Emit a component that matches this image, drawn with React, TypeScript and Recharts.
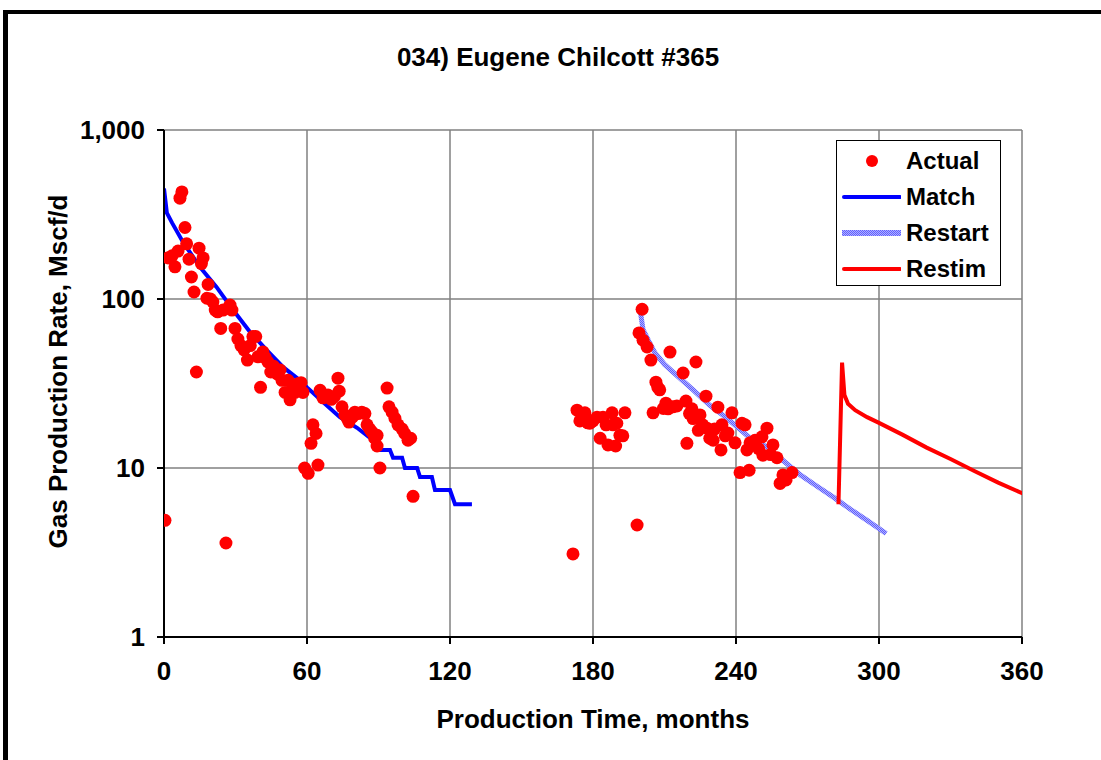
import { ComposedChart, Line, Scatter, XAxis, YAxis, CartesianGrid } from "recharts";

// actual monthly rates (month, Mscf/d)
const actualT = [
  0.4, 1.7, 3.4, 4.6, 5.9, 6.7, 7.5, 8.8, 9.5, 10.5, 11.5, 12.6, 13.6, 14.7, 15.7, 16.4, 18, 18.5, 19.5, 20.5,
  21.5, 22.5, 23.8, 24.8, 26, 27.7, 28.5, 29.8, 31, 32.3, 33.6, 35, 36.2, 37.3, 38.5, 39.4, 40.5, 41.5, 42.5, 43.6,
  44.8, 46, 47.5, 48.7, 49.5, 50.8, 52, 52.9, 54, 55, 56.2, 57.5, 58.3, 59, 60.5, 61.7, 62.5, 63.8, 64.6, 65.5,
  66.7, 67.8, 68.8, 70.2, 71.5, 73, 73.5, 74.7, 75.9, 77, 77.6, 79, 80.1, 81.5, 83, 84.3, 85.2, 86.3, 87.3, 88.4,
  89.4, 89.4, 90.6, 93.6, 94.4, 95.7, 96.9, 98.2, 99.9, 101, 102.4, 103.5, 104.5,
  171.6, 173.3, 174.5, 175.5, 176.6, 177.8, 178.7, 180, 181.7, 183, 184.2, 185.5, 186.3, 188, 188.4, 189.5, 190,
  191.3, 192.5, 193.4, 198.5, 199.3, 200.6, 201, 202.7, 204.3, 205.2, 206.4, 207.2, 208, 209.5, 210.6, 211.5, 212.3,
  213.5, 215.2, 217.8, 219, 219.4, 220.5, 221.5, 222, 223.2, 224.2, 224.9, 226, 227.4, 227.8, 229, 230.4, 231, 232.4,
  233.7, 234.1, 235.5, 236.6, 238.3, 239.6, 241.7, 242.5, 243.8, 244.6, 245.5, 245.9, 248, 249.5, 250.9, 251.3, 253,
  254.5, 255.5, 257.2, 258.5, 259.7, 261, 263.5,
];
const actualV = [
  4.9, 175, 180, 155, 192, 395, 430, 265, 212, 172, 135, 110, 37, 200, 162, 175, 101, 122, 100, 96,
  86, 84, 67, 86, 3.6, 92, 86, 67, 58, 53, 50, 43.5, 53, 60, 60, 45.5, 30, 48.6, 45, 42.4,
  37, 40, 36, 38, 33, 28, 33, 25.3, 30.6, 28, 31.5, 32, 28, 10, 9.3, 14, 18, 16, 10.4, 28.8,
  26, 26.5, 27, 25.5, 26.5, 34, 28.5, 23, 20.6, 19.5, 18.7, 20, 21.4, 21, 21.4, 21, 18, 17, 16.3, 15,
  15.6, 13.5, 10, 29.7, 23, 21.4, 19.7, 18, 17, 16, 14.6, 15, 6.8,
  3.1, 22, 19, 21, 21.2, 18.5, 18.4, 19, 20, 15, 20, 18, 13.7, 21.2, 18, 13.5, 18.4,
  15.6, 15.5, 21.2, 4.6, 63, 87, 57, 52, 43.5, 21.2, 32.2, 30, 29, 22.5, 24.2, 22.4, 48.5,
  23, 23.3, 36.5, 24.9, 14, 21, 22.4, 19.6, 42.4, 16.7, 20.6, 18, 26.6, 17.2, 15, 14.6, 17, 22.9,
  12.8, 18, 15.5, 16.1, 21.2, 14.1, 9.4, 18.4, 18, 12.8, 9.7, 14.1, 14.6, 13, 15.3, 11.9, 17.2,
  12, 13.7, 11.5, 8.1, 9.1, 8.5, 9.4,
];

// history match curve
const matchT = [0, 1.2, 3.4, 8, 15, 22, 29, 36, 43, 50, 57, 60, 66.7, 73.8, 81, 87.7, 90.6, 94.8, 96.1, 99.9, 101.1, 106.2, 107.4, 112.4, 113.7, 120, 122.1, 129.2];
const matchV = [450, 323, 282, 217, 155, 118, 86, 64, 50, 39.5, 33, 30, 24.6, 20, 17.3, 14.6, 12.8, 12.8, 11.5, 11.5, 10, 10, 8.85, 8.85, 7.4, 7.4, 6.1, 6.1];

// restart forecast
const restartT = [200, 201, 203.5, 206, 210, 215, 222, 229, 236, 246, 253, 260, 267, 274, 281, 288, 295, 303];
const restartV = [82, 66, 56, 48, 41, 35.5, 29, 23.5, 19.8, 15, 13.3, 11, 9.1, 7.8, 6.7, 5.7, 4.9, 4.1];

// restimulation forecast
const restimT = [283, 284.5, 285.5, 287, 290, 295, 300, 310, 320, 330, 340, 350, 361];
const restimV = [6.1, 42, 27, 24, 22, 20, 18.5, 15.7, 13.2, 11.3, 9.6, 8.2, 7.0];

const xTicks = [0, 60, 120, 180, 240, 300, 360];
const yTicks = [1, 10, 100, 1000];

const zip = (t: number[], v: number[]) => t.map((x, i) => ({ t: x, v: v[i] }));
const actual = zip(actualT, actualV);
const match = zip(matchT, matchV);
const restart = zip(restartT, restartV);
const restim = zip(restimT, restimV);

const FONT = "'Liberation Sans', Arial, sans-serif";

function Dot(props: any) {
  const { cx, cy } = props;
  if (cx == null || cy == null) return null;
  return <circle cx={cx} cy={cy} r={6.5} fill="#ff0000" />;
}

function Hatch({ id }: { id: string }) {
  return (
    <pattern id={id} width="2" height="2" patternUnits="userSpaceOnUse">
      <rect width="2" height="2" fill="#b0b0ff" />
      <rect width="1" height="1" fill="#6060ff" />
      <rect x="1" y="1" width="1" height="1" fill="#6060ff" />
    </pattern>
  );
}

function LegendBox() {
  const row = { display: "flex", alignItems: "center", height: 36 } as const;
  const txt = { fontFamily: FONT, fontWeight: 700, fontSize: 24, color: "#000", marginLeft: 5 } as const;
  return (
    <div
      style={{
        position: "absolute", left: 836, top: 140, border: "1px solid #000", background: "#fff",
        width: 165, height: 146, boxSizing: "border-box", paddingTop: 2,
      }}
    >
      <div style={row}>
        <svg width={64} height={20}><circle cx={35} cy={10} r={6} fill="#ff0000" /></svg>
        <span style={txt}>Actual</span>
      </div>
      <div style={row}>
        <svg width={64} height={20}><line x1={7} x2={63} y1={10} y2={10} stroke="#0000ff" strokeWidth={4} strokeLinecap="round" /></svg>
        <span style={txt}>Match</span>
      </div>
      <div style={row}>
        <svg width={64} height={20}>
          <defs><Hatch id="hatchL" /></defs>
          <rect x={5} y={7} width={60} height={6} fill="url(#hatchL)" />
        </svg>
        <span style={txt}>Restart</span>
      </div>
      <div style={row}>
        <svg width={64} height={20}><line x1={7} x2={63} y1={10} y2={10} stroke="#ff0000" strokeWidth={4} strokeLinecap="round" /></svg>
        <span style={txt}>Restim</span>
      </div>
    </div>
  );
}

export default function App() {
  const tickStyle = { fontFamily: FONT, fontWeight: 700, fontSize: 26, fill: "#000" };
  const label = { position: "absolute", fontFamily: FONT, fontWeight: 700, fontSize: 26, textAlign: "center" } as const;
  return (
    <div style={{ position: "fixed", left: 0, top: 0, width: 1101, height: 760, overflow: "hidden", background: "#fff" }}>
      <div style={{ ...label, left: 0, width: 1116, top: 42 }}>034) Eugene Chilcott #365</div>
      <div style={{ ...label, left: 0, width: 1186, top: 704 }}>Production Time, months</div>
      <div style={{ ...label, left: 58, top: 372, width: 500, marginLeft: -250, marginTop: -16, transform: "rotate(-90deg)" }}>
        Gas Production Rate, Mscf/d
      </div>
      <div style={{ position: "absolute", left: 0, top: 0 }}>
        <ComposedChart width={1101} height={760} margin={{ top: 130, right: 79, bottom: 63, left: 64 }}>
          <defs><Hatch id="hatch" /></defs>
          <CartesianGrid stroke="#808080" strokeWidth={1.5} />
          <XAxis
            dataKey="t"
            type="number"
            domain={[0, 360]}
            ticks={xTicks}
            height={60}
            tickSize={7}
            tickMargin={18}
            stroke="#000"
            strokeWidth={2}
            tick={tickStyle}
            allowDataOverflow
          />
          <YAxis
            scale="log"
            domain={[1, 1000]}
            ticks={yTicks}
            width={100}
            tickSize={7}
            tickMargin={12}
            stroke="#000"
            strokeWidth={2}
            tick={tickStyle}
            tickFormatter={(v: number) => v.toLocaleString("en-US")}
            allowDataOverflow
          />
          <Line data={match} dataKey="v" stroke="#0000ff" strokeWidth={4} dot={false} isAnimationActive={false} />
          <Line data={restart} dataKey="v" stroke="url(#hatch)" strokeWidth={5} dot={false} isAnimationActive={false} />
          <Line data={restim} dataKey="v" stroke="#ff0000" strokeWidth={4} dot={false} isAnimationActive={false} />
          <Scatter data={actual} dataKey="v" shape={<Dot />} isAnimationActive={false} />
        </ComposedChart>
      </div>
      <LegendBox />
      <div style={{ position: "absolute", left: 3, top: 10, width: 5, height: 760, background: "#000" }} />
      <div style={{ position: "absolute", left: 3, top: 10, width: 1101, height: 4, background: "#000" }} />
    </div>
  );
}
